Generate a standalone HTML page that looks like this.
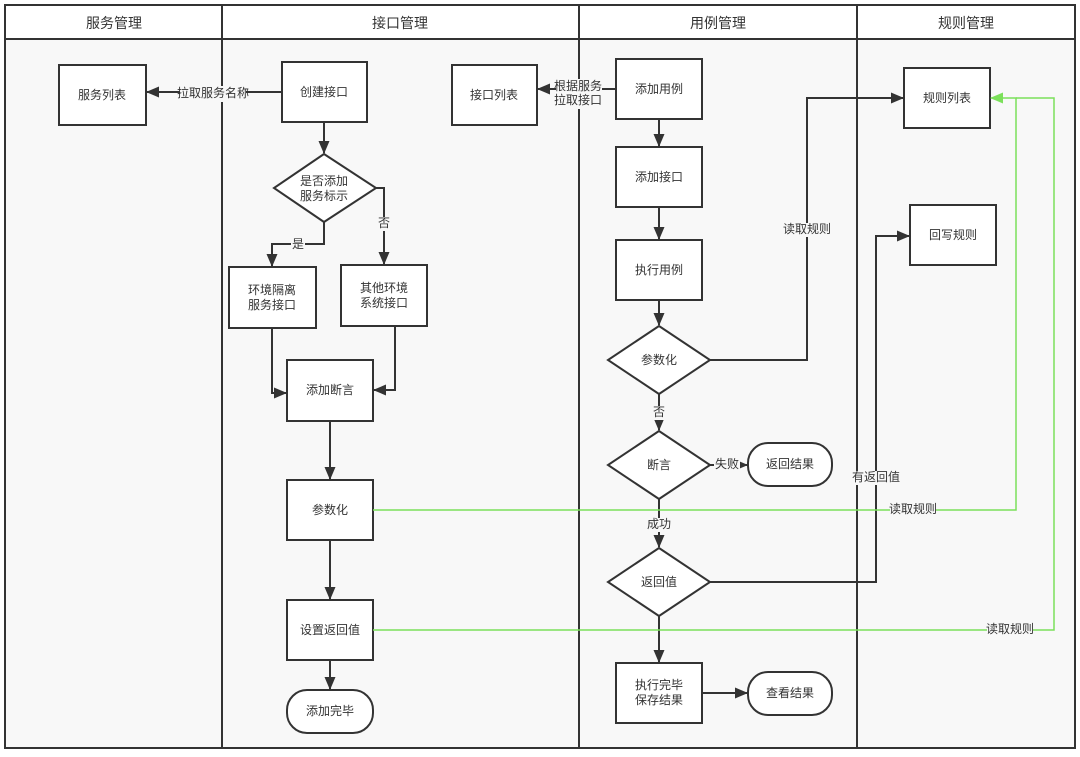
<!DOCTYPE html>
<html><head><meta charset="utf-8"><style>
body{margin:0;background:#fff;}
svg text{font-family:"Liberation Sans","Noto Sans CJK SC",sans-serif;fill:#333;}
</style></head><body>
<svg width="1080" height="752" viewBox="0 0 1080 752" xmlns="http://www.w3.org/2000/svg">
<defs>
<marker id="a" markerWidth="13" markerHeight="11" refX="12" refY="5.5" orient="auto" markerUnits="userSpaceOnUse"><path d="M0,0 L13,5.5 L0,11 z" fill="#333"/></marker>
<marker id="g" markerWidth="13" markerHeight="11" refX="12" refY="5.5" orient="auto" markerUnits="userSpaceOnUse"><path d="M0,0 L13,5.5 L0,11 z" fill="#7be05a"/></marker>
</defs>
<rect x="5" y="5" width="1070" height="743" fill="#f8f8f8" stroke="#333" stroke-width="2"/>
<rect x="5" y="5" width="1070" height="34" fill="#fff" stroke="#333" stroke-width="2"/>
<g stroke="#333" stroke-width="2"><line x1="222" y1="5" x2="222" y2="748"/><line x1="579" y1="5" x2="579" y2="748"/><line x1="857" y1="5" x2="857" y2="748"/></g>
<g font-size="14" text-anchor="middle"><text x="114" y="28">服务管理</text><text x="400" y="28">接口管理</text><text x="718" y="28">用例管理</text><text x="966" y="28">规则管理</text></g>

<g fill="#fff" stroke="#333" stroke-width="2">
<rect x="59" y="65" width="87" height="60"/>
<rect x="282" y="62" width="85" height="60"/>
<rect x="452" y="65" width="85" height="60"/>
<rect x="616" y="59" width="86" height="60"/>
<rect x="616" y="147" width="86" height="60"/>
<rect x="616" y="240" width="86" height="60"/>
<polygon points="659,326 710,360 659,394 608,360"/>
<polygon points="659,431 710,465 659,499 608,465"/>
<polygon points="659,548 710,582 659,616 608,582"/>
<rect x="748" y="443" width="84" height="43" rx="20"/>
<rect x="616" y="663" width="86" height="60"/>
<rect x="748" y="672" width="84" height="43" rx="20"/>
<rect x="904" y="68" width="86" height="60"/>
<rect x="910" y="205" width="86" height="60"/>
<polygon points="324,154 376,188 324,222 274,188"/>
<rect x="229" y="267" width="87" height="61"/>
<rect x="341" y="265" width="86" height="61"/>
<rect x="287" y="360" width="86" height="61"/>
<rect x="287" y="480" width="86" height="60"/>
<rect x="287" y="600" width="86" height="60"/>
<rect x="287" y="690" width="86" height="43" rx="20"/>
</g>

<g fill="none" stroke="#333" stroke-width="2" marker-end="url(#a)">
<path d="M282,92 H147"/>
<path d="M616,89 H538"/>
<path d="M324,122 V153"/>
<path d="M324,222 V244 H272 V266"/>
<path d="M376,188 H384 V264"/>
<path d="M272,328 V393 H286"/>
<path d="M395,326 V390 H374"/>
<path d="M330,421 V479"/>
<path d="M330,540 V599"/>
<path d="M330,660 V689"/>
<path d="M659,119 V146"/>
<path d="M659,207 V239"/>
<path d="M659,300 V325"/>
<path d="M659,394 V430"/>
<path d="M659,499 V547"/>
<path d="M659,616 V662"/>
<path d="M710,465 H747"/>
<path d="M702,693 H747"/>
<path d="M710,360 H807 V98 H903"/>
<path d="M710,582 H876 V236 H909"/>
</g>
<g fill="none" stroke="#7be05a" stroke-width="1.5">
<path d="M373,510 H1016 V98 H991" marker-end="url(#g)"/>
<path d="M373,630 H1054 V98 H1016"/>
</g>

<g font-size="12" text-anchor="middle" dominant-baseline="middle">
<rect x="180" y="86" width="66" height="16" fill="#f8f8f8"/><text x="213" y="94">拉取服务名称</text>
<rect x="556" y="79" width="46" height="30" fill="#f8f8f8"/><text x="578" y="87">根据服务</text><text x="578" y="101">拉取接口</text>
<text x="102" y="96">服务列表</text>
<text x="324" y="93">创建接口</text>
<text x="494" y="96">接口列表</text>
<text x="659" y="90">添加用例</text>
<text x="659" y="178">添加接口</text>
<text x="659" y="271">执行用例</text>
<text x="659" y="361">参数化</text>
<text x="659" y="466">断言</text>
<text x="659" y="583">返回值</text>
<text x="790" y="465">返回结果</text>
<text x="659" y="686">执行完毕</text><text x="659" y="701">保存结果</text>
<text x="790" y="694">查看结果</text>
<text x="947" y="99">规则列表</text>
<text x="953" y="236">回写规则</text>
<text x="324" y="182">是否添加</text><text x="324" y="197">服务标示</text>
<text x="272" y="291">环境隔离</text><text x="272" y="306">服务接口</text>
<text x="384" y="289">其他环境</text><text x="384" y="304">系统接口</text>
<text x="330" y="391">添加断言</text>
<text x="330" y="511">参数化</text>
<text x="330" y="631">设置返回值</text>
<text x="330" y="712">添加完毕</text>
<rect x="291" y="238" width="14" height="14" fill="#f8f8f8"/><text x="298" y="245">是</text>
<rect x="377" y="217" width="14" height="14" fill="#f8f8f8"/><text x="384" y="224">否</text>
<rect x="652" y="406" width="14" height="14" fill="#f8f8f8"/><text x="659" y="413">否</text>
<rect x="714" y="458" width="26" height="14" fill="#f8f8f8"/><text x="727" y="465">失败</text>
<rect x="645" y="518" width="28" height="14" fill="#f8f8f8"/><text x="659" y="525">成功</text>
<rect x="784" y="223" width="46" height="14" fill="#f8f8f8"/><text x="807" y="230">读取规则</text>
<rect x="852" y="471" width="48" height="14" fill="#f8f8f8"/><text x="876" y="478">有返回值</text>
<rect x="890" y="503" width="46" height="14" fill="#f8f8f8"/><text x="913" y="510">读取规则</text>
<rect x="987" y="623" width="46" height="14" fill="#f8f8f8"/><text x="1010" y="630">读取规则</text>
</g>
</svg>
</body></html>
